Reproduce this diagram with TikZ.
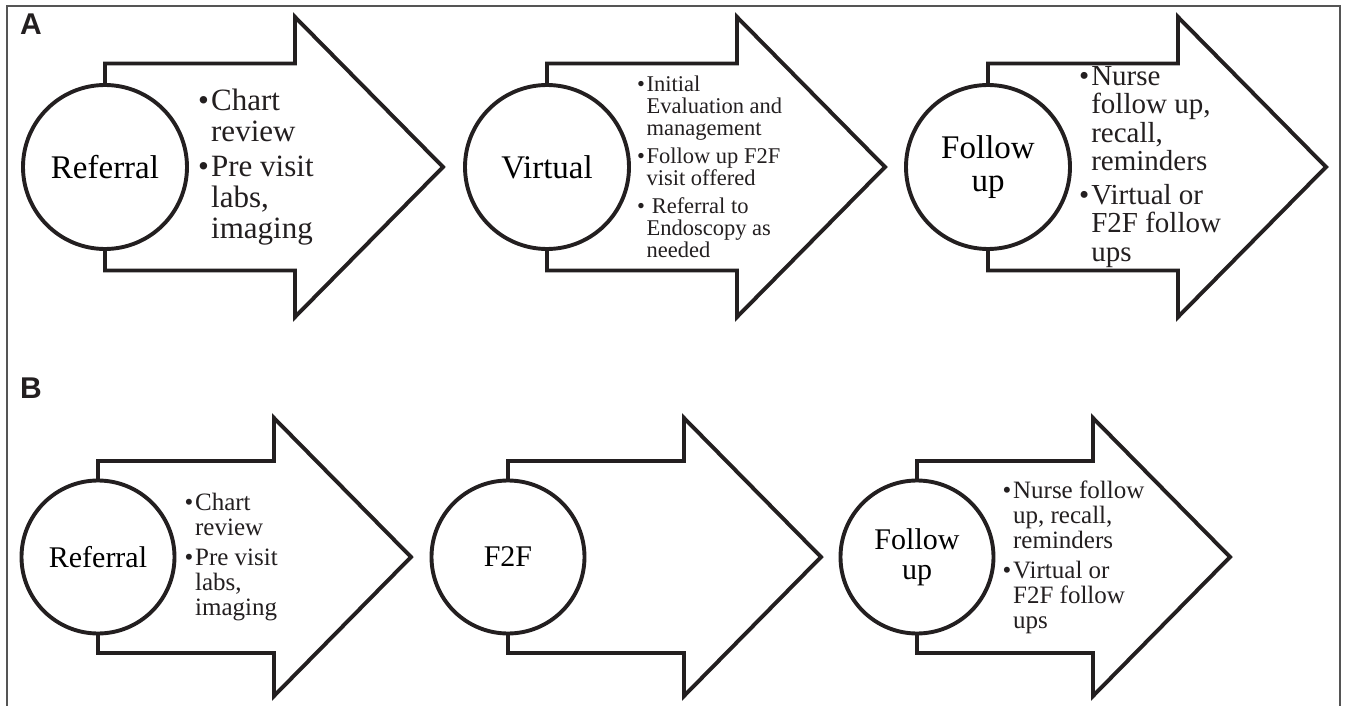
\documentclass[tikz,border=0pt]{standalone}
\usepackage{fontspec}
\setmainfont{Liberation Serif}
\newfontfamily\panelfont{Liberation Sans}
\usetikzlibrary{positioning}

\definecolor{ink}{HTML}{231F20}
\definecolor{framegray}{HTML}{555555}

% bullet and hanging indent for the notes
\newcommand{\bl}{\makebox[0.42em][l]{\textbullet}}
\newcommand{\hang}{\hspace*{0.42em}}
% #1 centre, #2 shaft half height, #3 head base, #4 head half height, #5 tip
\newcommand{\flowarrow}[5]{%
  \draw[flow] (#1) ++(0,-#2) -- ++(#3,0) -- ++(0,#2-#4) -- ++(#5-#3,#4)
    -- ++(#3-#5,#4) -- ++(0,#2-#4) -- ++(-#3,0) -- cycle;}

\tikzset{
  flow/.style={draw=ink, line width=3.9pt, fill=white, line join=miter},
  stage/.style={circle, draw=ink, line width=3.9pt, fill=white, inner sep=0pt, align=center},
  stagebig/.style={stage, minimum size=164pt, font=\fontsize{33}{33}\selectfont},
  stagesmall/.style={stage, minimum size=153pt, font=\fontsize{30}{30}\selectfont},
  note/.style={align=left, inner sep=0pt, text=ink},
  panel/.style={anchor=base west, inner sep=0pt, text=ink, font=\panelfont\bfseries\fontsize{30}{30}\selectfont}
}

\begin{document}
\begin{tikzpicture}[x=1pt, y=-1pt]
  \useasboundingbox (0,0) rectangle (1345,706);
  \draw[framegray, line width=1.4pt] (7,706) -- (7,6) -- (1340,6) -- (1340,706);

  % panel A
  \node[panel] (labA) at (20,35) {A};
  \coordinate (cA1) at (105,167);
  \coordinate (cA2) at (547,167);
  \coordinate (cA3) at (988,167);
  \flowarrow{cA1}{103.5}{190}{150}{338}
  \flowarrow{cA2}{103.5}{190}{150}{338}
  \flowarrow{cA3}{103.5}{190}{150}{338}
  \node[stagebig] (refA) at (cA1) {Referral};
  \node[stagebig] (virtA) at (cA2) {Virtual};
  \node[stagebig] (follA) at (cA3) {Follow\\up};
  \node[note, right=9pt of refA, font=\fontsize{31}{31}\selectfont] (noteA1)
    {\bl Chart\\ \hang review\\[4pt] \bl Pre visit\\ \hang labs,\\ \hang imaging};
  \node[note, right=6pt of virtA, font=\fontsize{22.5}{22}\selectfont] (noteA2)
    {\bl Initial\\ \hang Evaluation and\\ \hang management\\[6pt]
     \bl Follow up F2F\\ \hang visit offered\\[6pt]
     \bl\hspace{0.23em}Referral to\\ \hang Endoscopy as\\ \hang needed};
  \node[note, right=7pt of follA, font=\fontsize{29}{28.5}\selectfont] (noteA3)
    {\bl Nurse\\ \hang follow up,\\ \hang recall,\\ \hang reminders\\[5pt]
     \bl Virtual or\\ \hang F2F follow\\ \hang ups};

  % panel B
  \node[panel] (labB) at (20,398) {B};
  \coordinate (cB1) at (98,557);
  \coordinate (cB2) at (508,557);
  \coordinate (cB3) at (917,557);
  \flowarrow{cB1}{96}{176}{139}{313}
  \flowarrow{cB2}{96}{176}{139}{313}
  \flowarrow{cB3}{96}{176}{139}{313}
  \node[stagesmall] (refB) at (cB1) {Referral};
  \node[stagesmall] (ftfB) at (cB2) {F2F};
  \node[stagesmall] (follB) at (cB3) {Follow\\up};
  \node[note, right=8pt of refB, font=\fontsize{25}{25}\selectfont] (noteB1)
    {\bl Chart\\ \hang review\\[5pt] \bl Pre visit\\ \hang labs,\\ \hang imaging};
  \node[note, right=7pt of follB, font=\fontsize{25}{25}\selectfont] (noteB3)
    {\bl Nurse follow\\ \hang up, recall,\\ \hang reminders\\[5pt]
     \bl Virtual or\\ \hang F2F follow\\ \hang ups};
\end{tikzpicture}
\end{document}
